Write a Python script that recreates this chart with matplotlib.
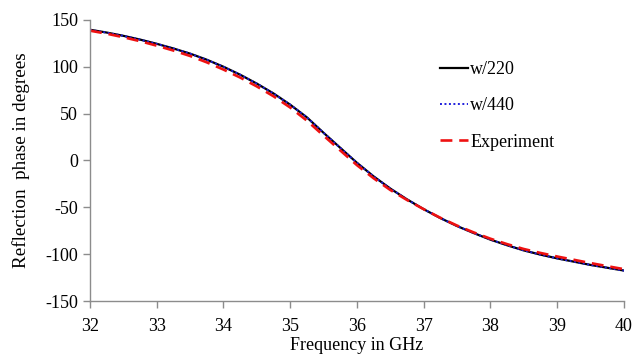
import matplotlib
matplotlib.use('Agg')
import matplotlib.pyplot as plt

# frequency points (GHz)
freq = [32.0, 32.25, 32.5, 32.75, 33.0, 33.25, 33.5, 33.75, 34.0, 34.25, 34.5,
        34.75, 35.0, 35.25, 35.5, 35.75, 36.0, 36.25, 36.5, 36.75, 37.0,
        37.25, 37.5, 37.75, 38.0, 38.25, 38.5, 38.75, 39.0, 39.25, 39.5,
        39.75, 40.0]

# reflection phase (degrees)
w220 = [139.5, 136.5, 133.0, 129.0, 124.5, 119.5, 114.0, 107.5, 100.0, 91.5, 82.0,
        71.5, 59.5, 46.0, 29.5, 13.5, -2.5, -17.0, -30.0, -41.5, -52.0,
        -61.5, -70.0, -77.5, -84.5, -90.5, -96.0, -100.5, -104.5, -108.0, -111.5,
        -114.5, -117.5]
w440 = [139.4, 136.4, 133.0, 129.0, 124.4, 119.5, 114.0, 107.4, 100.0, 91.5, 82.0,
        71.4, 59.5, 46.0, 29.5, 13.4, -2.5, -17.0, -30.0, -41.5, -52.0,
        -61.5, -70.0, -77.5, -84.5, -90.5, -96.0, -100.5, -104.5, -108.0, -111.5,
        -114.5, -117.6]
experiment = [138.5, 135.3, 131.5, 127.3, 122.5, 117.3, 111.5, 104.7, 97.0, 88.5, 79.0,
              68.5, 56.5, 42.5, 26.5, 10.7, -5.0, -19.0, -31.5, -42.2, -52.0,
              -61.2, -69.5, -76.8, -83.5, -89.3, -94.5, -98.7, -102.5, -106.0, -109.5,
              -112.8, -116.0]

plt.rcParams['font.family'] = ['Liberation Serif', 'DejaVu Serif']
plt.rcParams['font.size'] = 13
plt.rcParams['axes.unicode_minus'] = False

fig = plt.figure(figsize=(6.34, 3.62), dpi=100)
ax = fig.add_axes([0.142, 0.1685, 0.842, 0.7765])

ax.plot(freq, w220, color='black', lw=1.6, label='w/220')
ax.plot(freq, w440, color='#1f1fdd', lw=1.4, ls=(0, (1, 1.3)), label='w/440')
ax.plot(freq, experiment, color='#ee1111', lw=1.9, ls=(0, (4.5, 2.6)), label='Experiment')

ax.set_xlim(32, 40)
ax.set_ylim(-150, 150)
ax.set_xticks(range(32, 41))
ax.set_yticks(range(-150, 151, 50))

for s in ['top', 'right']:
    ax.spines[s].set_visible(False)
for s in ['left', 'bottom']:
    ax.spines[s].set_color('#8c8c8c')
    ax.spines[s].set_linewidth(1.0)
ax.tick_params(direction='out', length=5, color='#8c8c8c', width=1.0)
ax.tick_params(axis='x', pad=7)

ax.set_xlabel('Frequency in GHz', labelpad=2)
ax.set_ylabel('Reflection  phase in degrees', labelpad=11, fontsize=13.8)

ax.legend(loc='upper left', bbox_to_anchor=(0.669, 0.8755), frameon=False,
          handlelength=1.55, handletextpad=0.1, labelspacing=1.06,
          fontsize=13, bbox_transform=fig.transFigure)

fig.savefig('out.png', dpi=100)
